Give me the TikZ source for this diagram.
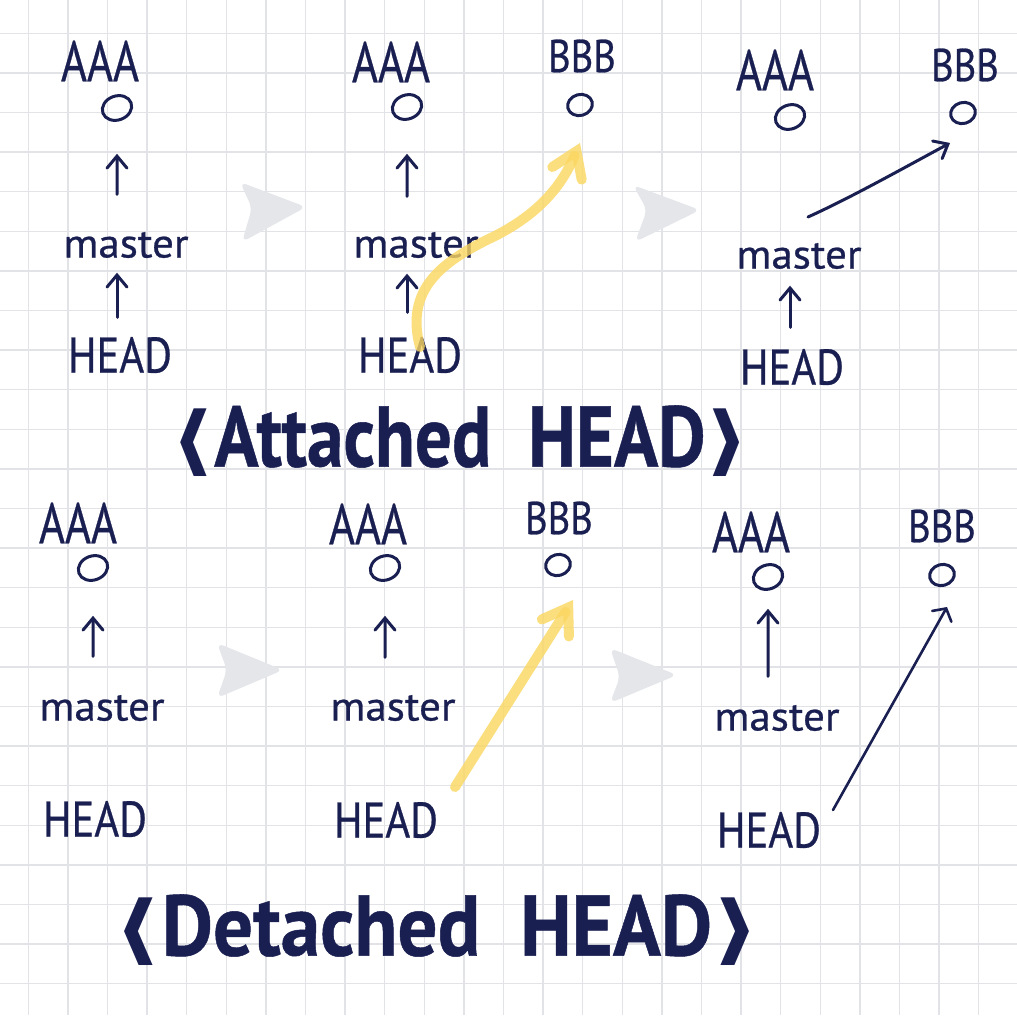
\documentclass[tikz,border=0pt]{standalone}
\usepackage{fontspec}
\newfontfamily\hand[FakeBold=0.6]{PT Sans}
\newfontfamily\symf{DejaVu Sans}
\usetikzlibrary{shapes.geometric,arrows.meta,calc}
\definecolor{navy}{RGB}{26,31,82}
\definecolor{gridc}{RGB}{226,227,231}
\definecolor{hl}{RGB}{251,215,96}
\definecolor{navg}{RGB}{228,230,234}
\newcommand{\lbrk}{{\symf\bfseries\fontsize{76}{76}\selectfont\scalebox{1.5}[1]{⟨}}}
\newcommand{\rbrk}{{\symf\bfseries\fontsize{76}{76}\selectfont\scalebox{1.5}[1]{⟩}}}
\begin{document}
\begin{tikzpicture}[x=1pt,y=-1pt,
  lblA/.style={inner sep=0,text=navy,font=\hand\fontsize{57}{57}\selectfont,xscale=0.78},
  lblB/.style={inner sep=0,text=navy,font=\hand\fontsize{46}{46}\selectfont,xscale=0.84},
  lblM/.style={inner sep=0,text=navy,font=\hand\fontsize{41}{41}\selectfont,xscale=1.05},
  lblH/.style={inner sep=0,text=navy,font=\hand\fontsize{50}{50}\selectfont,xscale=0.85},
  commitA/.style={ellipse,draw=navy,line width=3,minimum width=30,minimum height=24,inner sep=0,rotate=20},
  commitB/.style={ellipse,draw=navy,line width=3,minimum width=25,minimum height=21,inner sep=0,rotate=15},
  uparr/.style={draw=navy,line width=3,line cap=round,line join=round,-{Straight Barb[length=12pt,width=20pt,line cap=round]}},
  smallarr/.style={draw=navy,line width=2.6,line cap=round,line join=round,-{Straight Barb[length=9pt,width=22pt,line cap=round]}},
  hlarr/.style={draw=hl,draw opacity=0.8,line width=10,line cap=round,line join=round,-{Straight Barb[length=24pt,width=32pt,line cap=round]}},
  navshape/.style={fill=navg,rounded corners=7},
  title/.style={inner sep=0,text=navy,font=\hand\bfseries\fontsize{86}{86}\selectfont}
]
\useasboundingbox (0,0) rectangle (1017,1015);
\fill[white] (0,0) rectangle (1017,1015);
% grid
\foreach \i in {0,...,24} {
  \draw[gridc,line width=1.5] ({28.3+39.6*\i},0) -- ({28.3+39.6*\i},1015);
  \draw[gridc,line width=1.5] (0,{33.3+39.6*\i}) -- (1017,{33.3+39.6*\i});
}
% gray step arrows
\fill[navshape] (306,207) -- (240,182) -- (252,208) -- (242,242) -- cycle;
\fill[navshape] (700,210) -- (633,185) -- (647,210) -- (635,242) -- cycle;
\fill[navshape] (283,670) -- (217,643) -- (227,670) -- (217,698) -- cycle;
\fill[navshape] (677,675) -- (610,648) -- (620,677) -- (610,703) -- cycle;

% ===== top panel 1
\node[lblA] (a1) at (100,61) {AAA};
\node[commitA] (c1) at (117,108) {};
\node[lblM] (m1) at (126,245) {master};
\node[lblH] (h1) at (120,355) {HEAD};
\draw[uparr,shorten <=37.5,shorten >=32] (c1 |- m1.north) -- (c1);
\draw[uparr,shorten <=19.5,shorten >=14.5] (c1 |- h1.north) -- (c1 |- m1.south);

% ===== top panel 2
\node[lblA] (a2) at (391,62) {AAA};
\node[commitA] (c2) at (407,107) {};
\node[lblM] (m2) at (416,245) {master};
\node[lblH] (h2) at (410,355) {HEAD};
\node[lblB] (b2) at (582,56) {BBB};
\node[commitB] (d2) at (580,105) {};
\draw[uparr,shorten <=35.5,shorten >=33] (c2 |- m2.north) -- (c2);
\draw[uparr,shorten <=24.5,shorten >=15.5] (c2 |- h2.north) -- (c2 |- m2.south);
\coordinate (y2s) at (420,347);
\coordinate (y2e) at (580,143);
\draw[hlarr] (y2s) .. controls (405,290) and (440,262) .. (495,236) .. controls (540,213) and (562,185) .. (y2e);

% ===== top panel 3
\node[lblA] (a3) at (775,70) {AAA};
\node[commitA] (c3) at (790,117) {};
\node[lblB] (b3) at (965,65) {BBB};
\node[commitB] (d3) at (963,113) {};
\node[lblM] (m3) at (799,256) {master};
\node[lblH] (h3) at (792,367) {HEAD};
\draw[uparr,shorten <=21.5,shorten >=16.5] (c3 |- h3.north) -- (c3 |- m3.south);
\coordinate (p3s) at (808,217);
\coordinate (p3e) at (950,143);
\draw[uparr] (p3s) .. controls (850,198) and (900,170) .. (p3e);

% ===== title 1
\node[title,xscale=0.85] (t1) at (460,441) {\lbrk Attached\ \ HEAD\rbrk};

% ===== bottom panel 1
\node[lblA] (a4) at (78,523) {AAA};
\node[commitA] (c4) at (93,568) {};
\node[lblM] (m4) at (102,708) {master};
\node[lblH] (h4) at (95,819) {HEAD};
\draw[uparr,shorten <=38.5,shorten >=34] (c4 |- m4.north) -- (c4);

% ===== bottom panel 2
\node[lblA] (a5) at (368,524) {AAA};
\node[commitA] (c5) at (385,568) {};
\node[lblM] (m5) at (393,708) {master};
\node[lblH] (h5) at (386,820) {HEAD};
\node[lblB] (b5) at (559,518) {BBB};
\node[commitB] (d5) at (558,565) {};
\draw[uparr,shorten <=37.5,shorten >=34] (c5 |- m5.north) -- (c5);
\coordinate (y5s) at (455,787);
\coordinate (y5e) at (573,600);
\draw[hlarr] (y5s) -- (y5e);

% ===== bottom panel 3
\node[lblA] (a6) at (751,532) {AAA};
\node[commitA] (c6) at (768,577) {};
\node[lblM] (m6) at (777,718) {master};
\node[lblH] (h6) at (769,830) {HEAD};
\node[lblB] (b6) at (942,526) {BBB};
\node[commitB] (d6) at (942,575) {};
\draw[uparr,shorten <=28.5,shorten >=18] (c6 |- m6.north) -- (c6);
\coordinate (p6s) at (833,810);
\coordinate (p6e) at (947,607);
\draw[smallarr] (p6s) -- (p6e);

% ===== title 2
\node[title,xscale=0.92] (t2) at (437,930) {\lbrk Detached\ \ HEAD\rbrk};
\end{tikzpicture}
\end{document}
